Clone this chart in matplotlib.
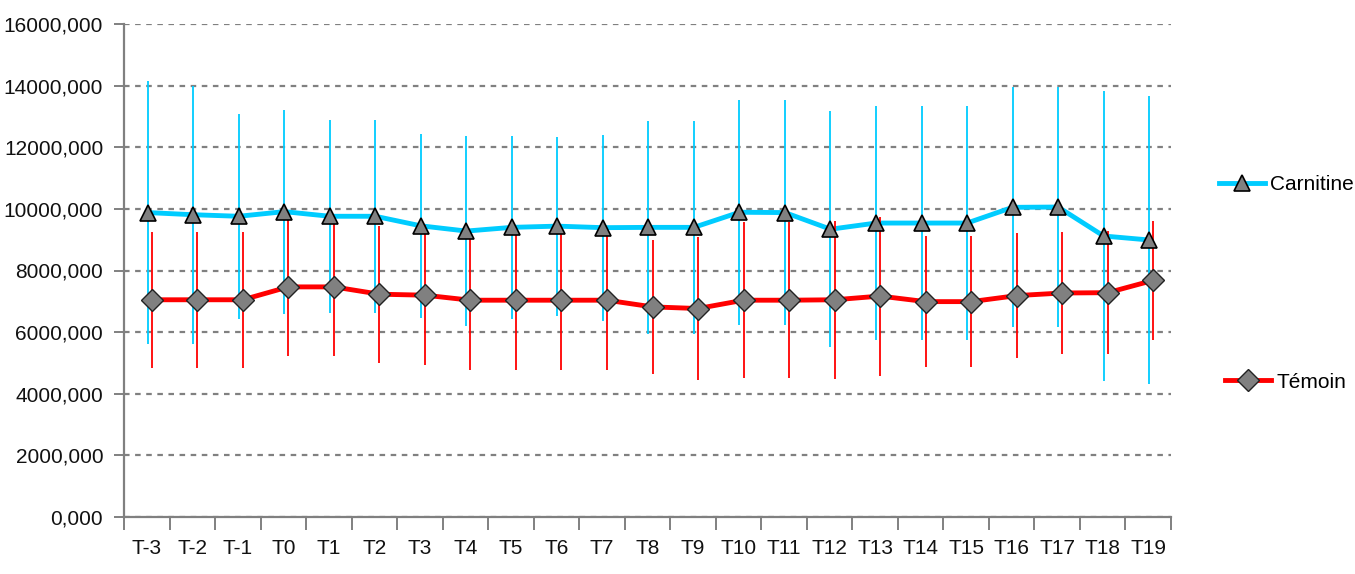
import matplotlib
matplotlib.use("Agg")
import matplotlib.pyplot as plt
from matplotlib.ticker import FuncFormatter, FixedLocator
from matplotlib.lines import Line2D
import numpy as np

categories = ["T-3", "T-2", "T-1", "T0", "T1", "T2", "T3", "T4", "T5", "T6", "T7",
              "T8", "T9", "T10", "T11", "T12", "T13", "T14", "T15", "T16", "T17",
              "T18", "T19"]
carnitine = [9880, 9810, 9760, 9910, 9760, 9760, 9450, 9280, 9400, 9440, 9390,
             9400, 9400, 9890, 9880, 9340, 9540, 9540, 9540, 10050, 10060, 9120, 8990]
carnitine_err = [4265, 4184, 3328, 3312, 3134, 3134, 2976, 3085, 2976, 2906, 3015,
                 3463, 3463, 3653, 3653, 3827, 3788, 3788, 3788, 3896, 3908, 4708, 4676]
temoin = [7050, 7050, 7050, 7468, 7468, 7231, 7199, 7036, 7036, 7036, 7036,
          6819, 6766, 7036, 7036, 7050, 7170, 6990, 6990, 7185, 7270, 7280, 7680]
temoin_err = [2208, 2208, 2208, 2250, 2250, 2218, 2273, 2250, 2250, 2250, 2250,
              2163, 2327, 2522, 2522, 2560, 2582, 2127, 2127, 2029, 1986, 1986, 1940]
yticks = [0, 2000, 4000, 6000, 8000, 10000, 12000, 14000, 16000]

plt.rcParams['font.family'] = ['Liberation Sans', 'DejaVu Sans']
FS = 15

fig = plt.figure(figsize=(13.55, 5.74), dpi=100)
ax = fig.add_axes([124/1355, 1-517/574, (1171-124)/1355, (517-24)/574])

x = np.arange(len(categories))
xc = x + 0.02
xt = x + 0.11

cyan = "#00CCFF"
red = "#FF0000"
gray = "#808080"

# gridlines
ax.set_ylim(0, 16000)
ax.set_xlim(-0.5, len(categories) - 0.5)
ax.yaxis.set_major_locator(FixedLocator(yticks))
ax.yaxis.grid(True, color=gray, linestyle=(0, (2.5, 2.5)), linewidth=1.6)
ax.set_axisbelow(True)

# lines
ax.plot(xc, carnitine, color=cyan, lw=3.5, zorder=3, solid_joinstyle='round')
ax.plot(xt, temoin, color=red, lw=3.5, zorder=3, solid_joinstyle='round')
# error bars
ax.errorbar(xc, carnitine, yerr=carnitine_err, fmt='none', ecolor=cyan, elinewidth=1.3, capsize=0, zorder=4)
ax.errorbar(xt, temoin, yerr=temoin_err, fmt='none', ecolor=red, elinewidth=1.3, capsize=0, zorder=4)
# markers
ax.plot(xc, carnitine, linestyle='none', marker='^', ms=12, mfc=gray, mec='black', mew=1.2, zorder=5)
ax.plot(xt, temoin, linestyle='none', marker='D', ms=11, mfc=gray, mec='#222222', mew=1.0, zorder=5)

# axes styling
for s in ['top', 'right']:
    ax.spines[s].set_visible(False)
for s in ['left', 'bottom']:
    ax.spines[s].set_color(gray)
    ax.spines[s].set_linewidth(1.6)

ax.yaxis.set_major_formatter(FuncFormatter(lambda v, p: f"{int(v)},000"))
ax.tick_params(axis='y', direction='out', length=7, width=1.4, color=gray,
               labelsize=FS, labelcolor='#111111', pad=8)

ax.set_xticks(np.arange(-0.5, len(categories), 1.0))
ax.set_xticklabels([])
ax.set_xticks(x, minor=True)
ax.set_xticklabels(categories, minor=True)
ax.tick_params(axis='x', which='major', direction='out', length=9, width=1.4, color=gray)
ax.tick_params(axis='x', which='minor', length=0, labelsize=FS, labelcolor='#111111', pad=16)

# legends
h1 = Line2D([], [], color=cyan, lw=3.5, marker='^', ms=12, mfc=gray, mec='black', mew=1.2)
h2 = Line2D([], [], color=red, lw=3.5, marker='D', ms=11, mfc=gray, mec='#222222', mew=1.0)
fig.legend([h1], ["Carnitine"], loc='center left', bbox_to_anchor=(1209/1355, 1-185/574),
           frameon=False, fontsize=FS, handlelength=2.2, handletextpad=0.25, borderpad=0)
fig.legend([h2], ["Témoin"], loc='center left', bbox_to_anchor=(1215/1355, 1-382/574),
           frameon=False, fontsize=FS, handlelength=2.2, handletextpad=0.25, borderpad=0)

fig.savefig("out.png", dpi=100)
